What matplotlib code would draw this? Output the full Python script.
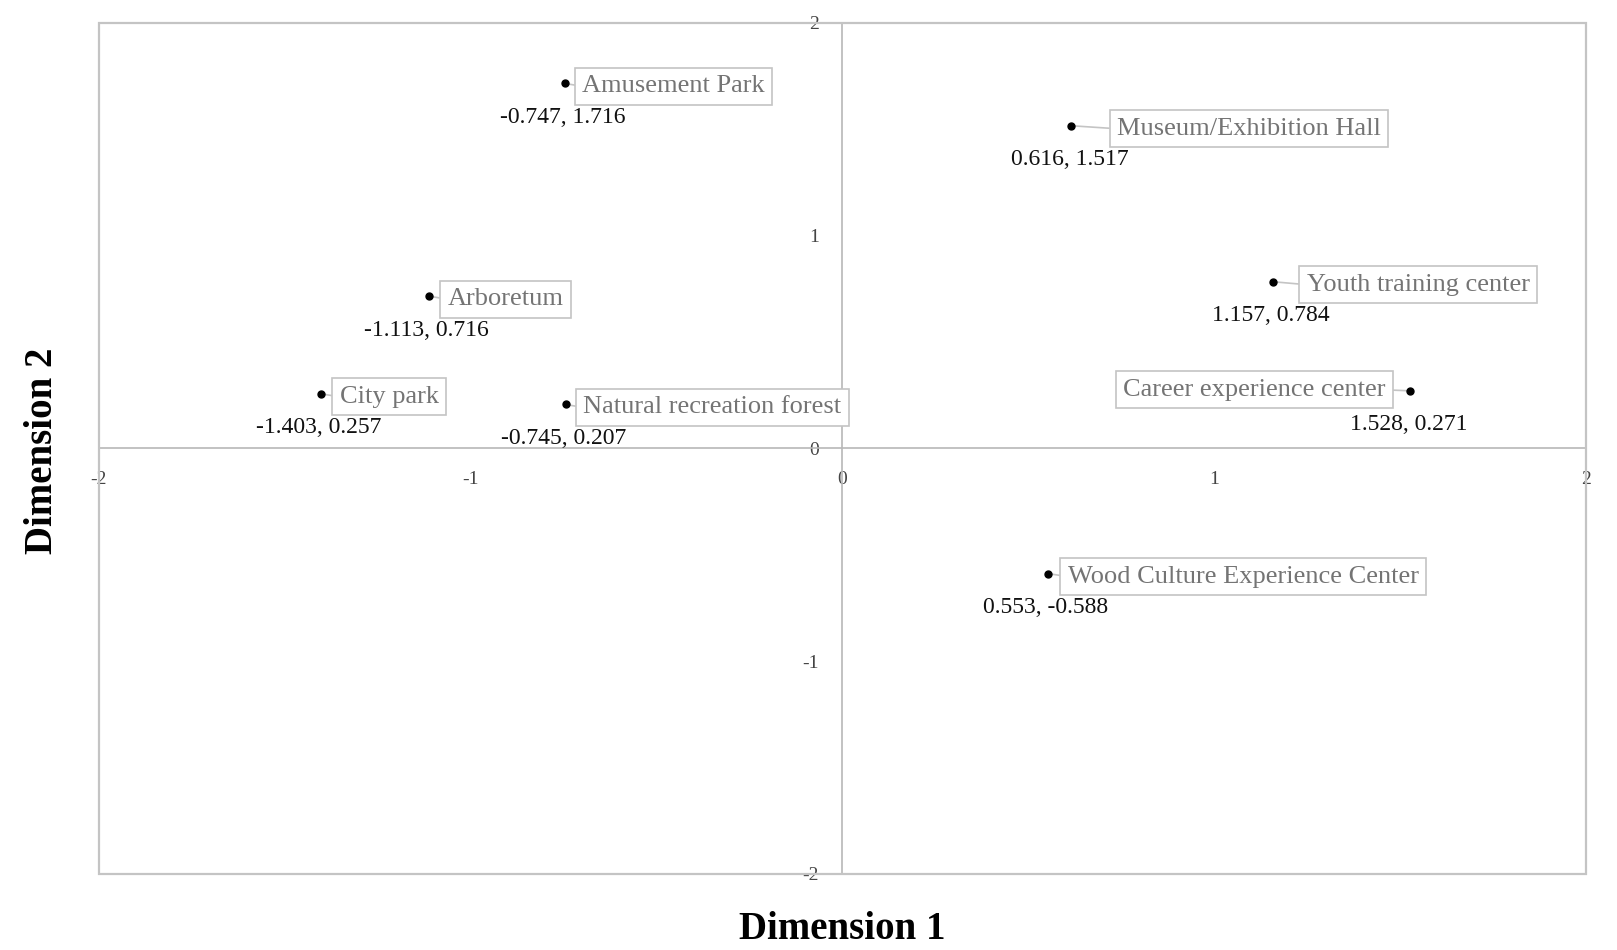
import matplotlib
matplotlib.use("Agg")
import matplotlib.pyplot as plt
from matplotlib.patches import Rectangle

names = ["Amusement Park", "Museum/Exhibition Hall", "Youth training center",
         "Arboretum", "City park", "Natural recreation forest",
         "Career experience center", "Wood Culture Experience Center"]
dim1 = [-0.747, 0.616, 1.157, -1.113, -1.403, -0.745, 1.528, 0.553]
dim2 = [1.716, 1.517, 0.784, 0.716, 0.257, 0.207, 0.271, -0.588]
ticks = [-2, -1, 0, 1, 2]
tick_labels = ["-2", "-1", "0", "1", "2"]
# label placement: horizontal offset (pixels) of the label from its point
label_dx = [17.7, 45.5, 34.2, 18.7, 18.7, 17.7, -24.9, 19.8]
label_dy = [-3, -3, -3, -3, -3, -3, 1, -3]

plt.rcParams['font.family'] = ['Liberation Serif', 'DejaVu Serif']

fig = plt.figure(figsize=(16.17, 9.5), dpi=100)
ax = fig.add_axes([0.0612, 0.08, 0.9196, 0.8958])
ax.set_xlim(-2, 2)
ax.set_ylim(-2, 2)

frame_col = "#c4c4c4"
line_col = "#b8b8b8"
ax.spines['left'].set_position('zero')
ax.spines['bottom'].set_position('zero')
ax.spines['top'].set_visible(False)
ax.spines['right'].set_visible(False)
for s in ['left', 'bottom']:
    ax.spines[s].set_color(line_col)
    ax.spines[s].set_linewidth(1.2)
ax.add_patch(Rectangle((0, 0), 1, 1, transform=ax.transAxes, fill=False,
                       edgecolor=frame_col, linewidth=1.6, clip_on=False, zorder=3))

ax.set_xticks(ticks)
ax.set_xticklabels(tick_labels)
ax.set_yticks(ticks)
ax.set_yticklabels(tick_labels)
ax.tick_params(axis='x', length=0, pad=16, labelsize=14, labelcolor="#444444")
ax.tick_params(axis='y', length=0, pad=17, labelsize=14, labelcolor="#444444")

ax.plot(dim1, dim2, 'o', color='black', markersize=5, zorder=5, linestyle='none')

for n, x, y, dx, dy in zip(names, dim1, dim2, label_dx, label_dy):
    if dx > 0:
        ha = 'left'
        rel = (0, 0.5)
    else:
        ha = 'right'
        rel = (1, 0.5)
    ax.annotate(n, xy=(x, y), xytext=(dx, dy), textcoords='offset pixels',
                ha=ha, va='center', fontsize=19, color="#747474",
                bbox=dict(boxstyle='square,pad=0.28', fc='white', ec=frame_col, lw=1.2),
                arrowprops=dict(arrowstyle='-', color=frame_col, lw=1.2,
                                shrinkA=0, shrinkB=2, relpos=rel),
                zorder=4)
    ax.annotate(f"{x:.3f}, {y:.3f}", xy=(x, y), xytext=(-2, -34),
                textcoords='offset pixels', ha='center', va='center',
                fontsize=17, color="#111111", zorder=4)

fig.text(0.521, 0.022, "Dimension 1", ha='center', va='center',
         fontsize=28, fontweight='bold')
fig.text(0.0265, 0.525, "Dimension 2", ha='center', va='center',
         fontsize=28, fontweight='bold', rotation=90)

fig.savefig("out.png", dpi=100, facecolor='white')
